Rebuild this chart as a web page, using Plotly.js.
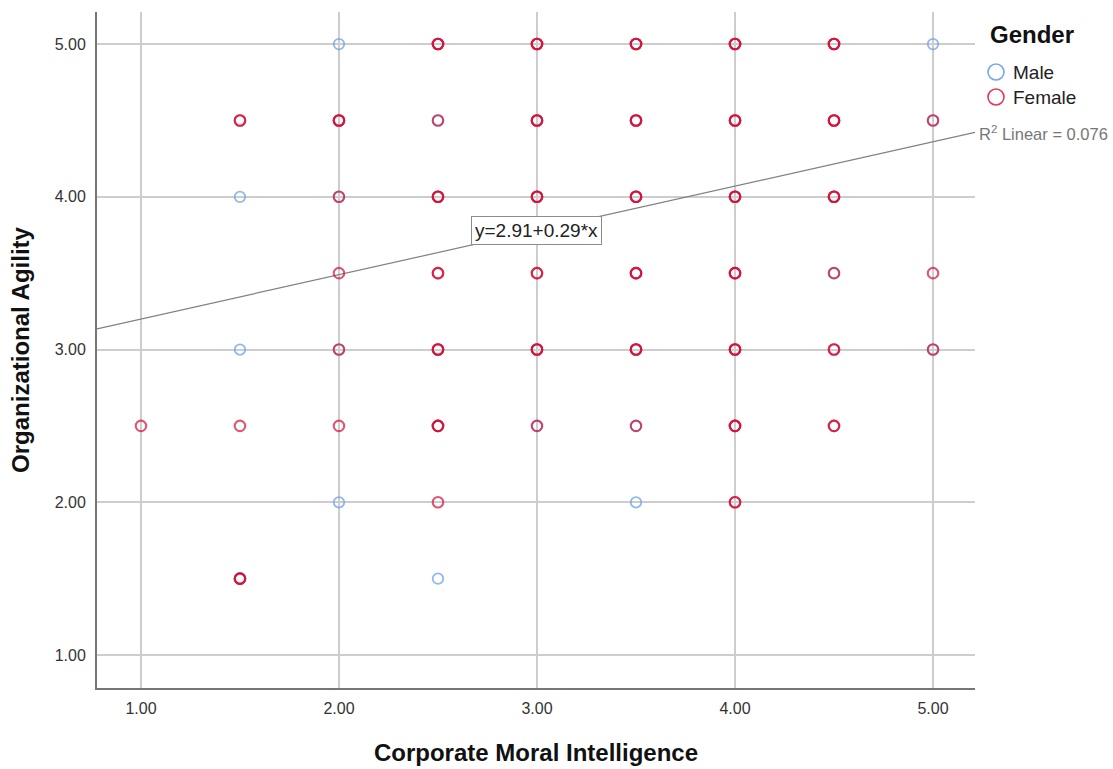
<!DOCTYPE html>
<html>
<head>
<meta charset="utf-8">
<script src="https://cdn.plot.ly/plotly-3.0.1.min.js"></script>
<style>
  html, body { margin: 0; padding: 0; background: #ffffff; }
  #chart { width: 1113px; height: 769px; }
</style>
</head>
<body>
<div id="chart"></div>
<script>
// Respondents grouped by (moral intelligence, agility) cell, with the number in each cell
const femaleX = [2.5, 3, 3.5, 4, 4.5,
                 1.5, 2, 2.5, 3, 3.5, 4, 4.5, 5,
                 2, 2.5, 3, 3.5, 4, 4.5,
                 2, 2.5, 3, 3.5, 4, 4.5, 5,
                 2, 2.5, 3, 3.5, 4, 4.5, 5,
                 1, 1.5, 2, 2.5, 3, 3.5, 4, 4.5,
                 2.5, 4,
                 1.5];
const femaleY = [5, 5, 5, 5, 5,
                 4.5, 4.5, 4.5, 4.5, 4.5, 4.5, 4.5, 4.5,
                 4, 4, 4, 4, 4, 4,
                 3.5, 3.5, 3.5, 3.5, 3.5, 3.5, 3.5,
                 3, 3, 3, 3, 3, 3, 3,
                 2.5, 2.5, 2.5, 2.5, 2.5, 2.5, 2.5, 2.5,
                 2, 2,
                 1.5];
const femaleN = [3, 3, 3, 3, 3,
                 2, 3, 1, 3, 3, 3, 3, 1,
                 1, 3, 3, 3, 3, 3,
                 1, 2, 2, 3, 3, 1, 1,
                 1, 3, 3, 3, 3, 2, 1,
                 1, 1, 1, 3, 1, 1, 3, 2,
                 1, 2,
                 3];

const maleX = [2, 5, 2.5, 5, 1.5, 2, 4.5, 1.5, 2, 5, 3, 3.5, 2, 3.5, 2.5];
const maleY = [5, 5, 4.5, 4.5, 4, 4, 3.5, 3, 3, 3, 2.5, 2.5, 2, 2, 1.5];
const maleN = [1, 1, 1, 1, 1, 1, 1, 1, 1, 1, 1, 1, 1, 1, 1];

const xTicks = [1, 2, 3, 4, 5];
const xTickText = ['1.00', '2.00', '3.00', '4.00', '5.00'];
const yTicks = [1, 2, 3, 4, 5];
const yTickText = ['1.00', '2.00', '3.00', '4.00', '5.00'];

const groupNames = ['Male', 'Female'];
const legendTitle = 'Gender';

// Linear fit reported for the whole sample
const fitIntercept = 2.91;
const fitSlope = 0.29;
const fitR2 = 0.076;
const fitLabelX = 3.0;

const xRange = [0.778, 5.212];
const yRange = [0.784, 5.21];

const femaleColor = 'rgb(211,14,55)';
const maleColor = 'rgb(108,160,232)';
const femaleKeyColor = 'rgb(226,58,88)';
const maleKeyColor = 'rgb(120,168,235)';

const FONT = 'Liberation Sans, Arial, sans-serif';

// one marker per respondent, so crowded cells build up darker rings
function expand(xs, ys, ns) {
  const px = [], py = [];
  xs.forEach((x, i) => {
    for (let k = 0; k < ns[i]; k++) { px.push(x); py.push(ys[i]); }
  });
  return { x: px, y: py };
}
const male = expand(maleX, maleY, maleN);
const female = expand(femaleX, femaleY, femaleN);

const traces = [
  {
    x: xRange,
    y: xRange.map(x => fitIntercept + fitSlope * x),
    mode: 'lines',
    line: { color: '#808080', width: 1.2 },
    hoverinfo: 'skip'
  },
  {
    x: male.x, y: male.y, mode: 'markers', name: groupNames[0],
    marker: { symbol: 'circle-open', size: 10.5, color: maleColor, opacity: 0.75,
              line: { color: maleColor, width: 1.8 } },
    hoverinfo: 'skip'
  },
  {
    x: female.x, y: female.y, mode: 'markers', name: groupNames[1],
    marker: { symbol: 'circle-open', size: 10.5, color: femaleColor, opacity: 0.7,
              line: { color: femaleColor, width: 2.1 } },
    hoverinfo: 'skip'
  }
];

// legend key drawn at the right of the plot area, in pixel-sized rings
function keyRing(yPaper, color) {
  return {
    type: 'circle', xref: 'paper', yref: 'paper',
    xsizemode: 'pixel', ysizemode: 'pixel',
    xanchor: 1.0239, yanchor: yPaper,
    x0: -8, x1: 8, y0: -8, y1: 8,
    line: { color: color, width: 1.6 },
    fillcolor: 'rgba(0,0,0,0)'
  };
}

const layout = {
  width: 1113,
  height: 769,
  margin: { l: 97, r: 138, t: 12, b: 81 },
  paper_bgcolor: '#ffffff',
  plot_bgcolor: '#ffffff',
  font: { family: FONT },
  showlegend: false,
  xaxis: {
    range: xRange,
    tickvals: xTicks,
    ticktext: xTickText,
    tickfont: { family: FONT, size: 16, color: '#333333' },
    ticks: '',
    ticklabelstandoff: 5,
    showgrid: true,
    gridcolor: '#cdcdcd',
    gridwidth: 2,
    zeroline: false,
    showline: true,
    linecolor: '#767676',
    linewidth: 2,
    title: { text: 'Corporate Moral Intelligence',
             font: { family: FONT, size: 24, color: '#111111', weight: 'bold' }, standoff: 28 }
  },
  yaxis: {
    range: yRange,
    tickvals: yTicks,
    ticktext: yTickText,
    tickfont: { family: FONT, size: 16, color: '#333333' },
    ticks: '',
    ticklabelstandoff: 6,
    showgrid: true,
    gridcolor: '#cdcdcd',
    gridwidth: 2,
    zeroline: false,
    showline: true,
    linecolor: '#767676',
    linewidth: 2,
    title: { text: 'Organizational Agility',
             font: { family: FONT, size: 24, color: '#111111', weight: 'bold' }, standoff: 18 }
  },
  shapes: [
    keyRing(0.9112, maleKeyColor),
    keyRing(0.8743, femaleKeyColor)
  ],
  annotations: [
    {
      x: fitLabelX, y: fitIntercept + fitSlope * fitLabelX, xref: 'x', yref: 'y',
      text: 'y=' + fitIntercept.toFixed(2) + '+' + fitSlope.toFixed(2) + '*x',
      showarrow: false,
      font: { family: FONT, size: 19, color: '#222222' },
      bgcolor: '#ffffff',
      bordercolor: '#8c8c8c',
      borderwidth: 1,
      borderpad: 3
    },
    {
      x: 1.0023, y: 0.821, xref: 'paper', yref: 'paper',
      xanchor: 'left', yanchor: 'middle',
      text: 'R<sup>2</sup> Linear = ' + fitR2.toFixed(3),
      showarrow: false,
      font: { family: FONT, size: 16.5, color: '#777777' }
    },
    {
      x: 1.0148, y: 0.966, xref: 'paper', yref: 'paper',
      xanchor: 'left', yanchor: 'middle',
      text: legendTitle, showarrow: false,
      font: { family: FONT, size: 24, color: '#111111', weight: 'bold' }
    },
    {
      x: 1.0410, y: 0.9098, xref: 'paper', yref: 'paper',
      xanchor: 'left', yanchor: 'middle',
      text: groupNames[0], showarrow: false,
      font: { family: FONT, size: 19, color: '#222222' }
    },
    {
      x: 1.0410, y: 0.8728, xref: 'paper', yref: 'paper',
      xanchor: 'left', yanchor: 'middle',
      text: groupNames[1], showarrow: false,
      font: { family: FONT, size: 19, color: '#222222' }
    }
  ]
};

Plotly.newPlot('chart', traces, layout, { displayModeBar: false, staticPlot: true });
</script>
</body>
</html>
